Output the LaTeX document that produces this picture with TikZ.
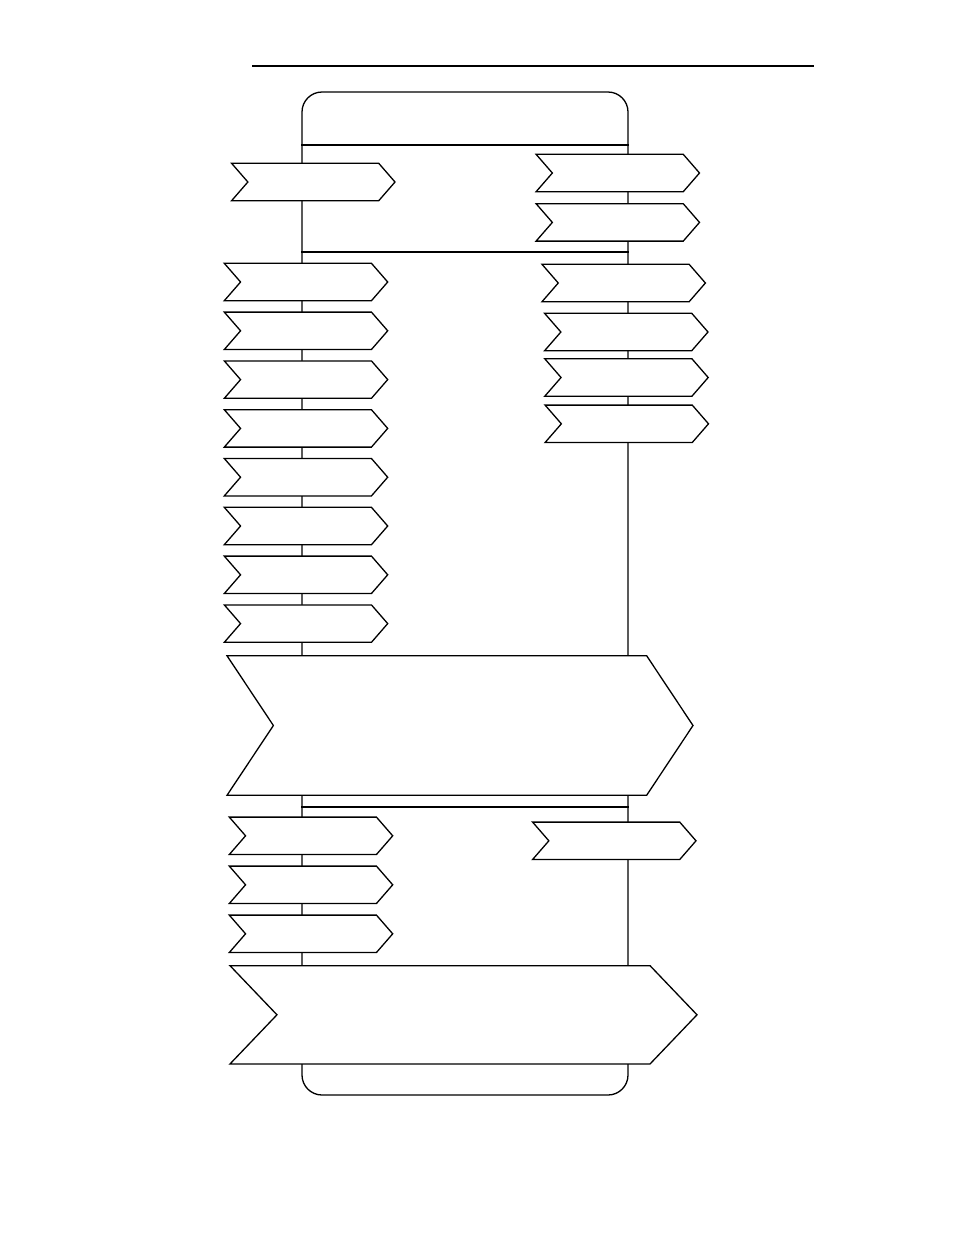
\documentclass[tikz,border=0pt]{standalone}
\usetikzlibrary{shapes.symbols,positioning}

\begin{document}
\begin{tikzpicture}[x=1pt, y=-1pt, line width=1.3pt,
    chev/.style = {draw, fill=white, signal, signal from=west, signal to=east, inner sep=0pt, outer sep=0pt,
      minimum width=163.4pt, minimum height=37.4pt, signal pointer angle=98},
    lane/.style = {draw, rectangle, rounded corners=20pt, inner sep=0pt, minimum width=326pt, minimum height=1003pt}]
      \useasboundingbox (0,0) rectangle (954,1235);
      \draw (252,66) -- (814,66);

      % the lane behind everything
      \node[lane] (box) at (465,593.5) {};
      \draw (box.west |- 0,145) -- (box.east |- 0,145);
      \draw (box.west |- 0,252) -- (box.east |- 0,252);
      \draw (box.west |- 0,807) -- (box.east |- 0,807);

      % head part
      \node[chev] (in0) at (313.3,182) {};
      \node[chev] (out1) at (617.8,173) {};
      \node[chev] (out2) [below=12pt of out1] {};

      % left column
      \node[chev] (l1) at (306,282) {};
      \node[chev] (l2) [below=11.4pt of l1] {};
      \node[chev] (l3) [below=11.4pt of l2] {};
      \node[chev] (l4) [below=11.4pt of l3] {};
      \node[chev] (l5) [below=11.4pt of l4] {};
      \node[chev] (l6) [below=11.4pt of l5] {};
      \node[chev] (l7) [below=11.4pt of l6] {};
      \node[chev] (l8) [below=11.4pt of l7] {};

      % right column
      \node[chev] (r1) at (623.7,283) {};
      \node[chev] (r2) at (626.3,332) {};
      \node[chev] (r3) at (626.5,377.5) {};
      \node[chev] (r4) at (626.8,423.8) {};

      \node[chev, minimum width=466pt, minimum height=139.6pt, signal pointer angle=112.8] (big1) at (460,725.5) {};

      % lower part
      \node[chev] (m1) at (311,835.8) {};
      \node[chev] (m2) [below=11.6pt of m1] {};
      \node[chev] (m3) [below=11.6pt of m2] {};
      \node[chev] (o1) at (614.3,840.8) {};

      \node[chev, minimum width=467pt, minimum height=98.3pt, signal pointer angle=92.6] (big2) at (463.5,1014.8) {};
    \end{tikzpicture}
\end{document}
